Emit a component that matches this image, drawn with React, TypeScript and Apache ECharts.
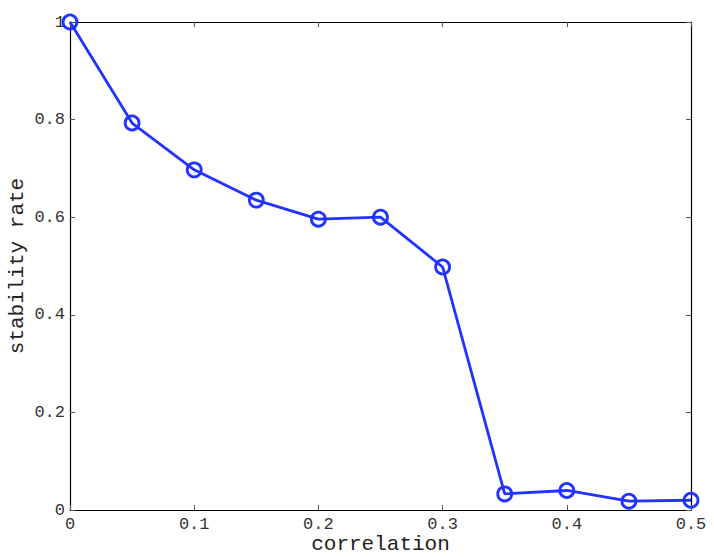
import React, { useEffect, useRef } from "react";
import * as echarts from "echarts";

const correlation = [0, 0.05, 0.1, 0.15, 0.2, 0.25, 0.3, 0.35, 0.4, 0.45, 0.5];
const stabilityRate = [1.0, 0.793, 0.697, 0.635, 0.596, 0.6, 0.498, 0.033, 0.04, 0.018, 0.02];
const xLabel = "correlation";
const yLabel = "stability rate";

const FONT = "'Liberation Mono', 'DejaVu Sans Mono', monospace";

export default function App() {
  const ref = useRef<HTMLDivElement>(null);
  useEffect(() => {
    if (!ref.current) return;
    const chart = echarts.init(ref.current, null, { renderer: "svg" });
    const tickStyle = { show: true, inside: true, length: 5, lineStyle: { color: "#555", width: 1 } };
    const axisLine = { show: true, onZero: false, lineStyle: { color: "#000", width: 1.2 } };
    chart.setOption({
      animation: false,
      backgroundColor: "#fff",
      grid: { left: 70, top: 22, right: 23, bottom: 47, containLabel: false, outerBoundsMode: "none" },
      xAxis: [
        {
          type: "value",
          min: 0,
          max: 0.5,
          interval: 0.1,
          name: xLabel,
          nameLocation: "middle",
          nameGap: 23,
          nameMoveOverlap: false,
          nameTextStyle: { fontFamily: FONT, fontSize: 21, color: "#222", lineHeight: 22 },
          axisLine,
          axisTick: tickStyle,
          axisLabel: { fontFamily: FONT, fontSize: 17, color: "#333", margin: 6 },
          splitLine: { show: false },
        },
        {
          type: "value",
          position: "top",
          min: 0,
          max: 0.5,
          interval: 0.1,
          axisLine,
          axisTick: tickStyle,
          axisLabel: { show: false },
          splitLine: { show: false },
        },
      ],
      yAxis: [
        {
          type: "value",
          min: 0,
          max: 1,
          interval: 0.2,
          name: yLabel,
          nameLocation: "middle",
          nameGap: 42,
          nameMoveOverlap: false,
          nameTextStyle: { fontFamily: FONT, fontSize: 21, color: "#222", lineHeight: 22 },
          axisLine,
          axisTick: tickStyle,
          axisLabel: { fontFamily: FONT, fontSize: 17, color: "#333", margin: 5 },
          splitLine: { show: false },
        },
        {
          type: "value",
          position: "right",
          min: 0,
          max: 1,
          interval: 0.2,
          axisLine,
          axisTick: tickStyle,
          axisLabel: { show: false },
          splitLine: { show: false },
        },
      ],
      series: [
        {
          type: "line",
          data: correlation.map((c, i) => [c, stabilityRate[i]]),
          symbol: "circle",
          symbolSize: 14,
          showSymbol: true,
          lineStyle: { color: "#2233ff", width: 2.8 },
          itemStyle: { color: "#ffffff00", borderColor: "#2233ff", borderWidth: 2.8 },
          clip: false,
          z: 5,
        },
      ],
    });
    return () => chart.dispose();
  }, []);
  return (
    <div
      ref={ref}
      style={{ position: "fixed", left: 0, top: 0, width: 714, height: 557, background: "#fff" }}
    />
  );
}
